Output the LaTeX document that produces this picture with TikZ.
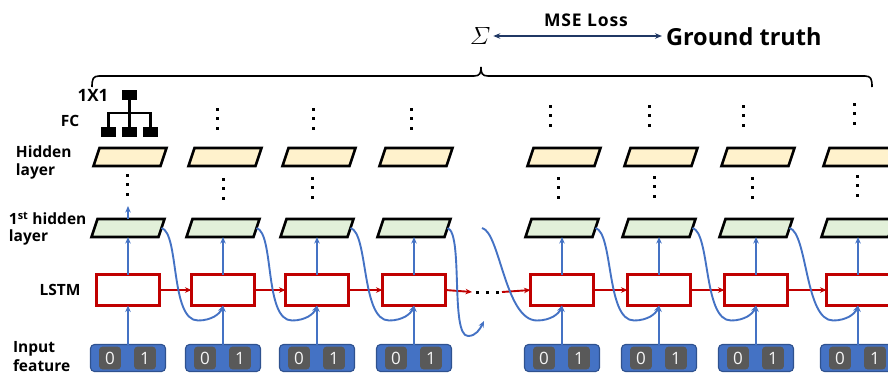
\documentclass[tikz,border=0pt]{standalone}
\usepackage{amsmath}
\usepackage{fontspec}
\setmainfont{Open Sans}
\usetikzlibrary{arrows.meta,calc}

\definecolor{lstmred}{HTML}{C00000}
\definecolor{flowblue}{HTML}{4472C4}
\definecolor{boxedge}{HTML}{2F528F}
\definecolor{keygrey}{HTML}{595959}
\definecolor{hidyellow}{HTML}{FFF2CC}
\definecolor{hidgreen}{HTML}{E2F0D9}
\definecolor{lossnavy}{HTML}{203864}

\begin{document}
\begin{tikzpicture}[x=1pt,y=-1pt,
  every node/.style={inner sep=0pt,outer sep=0pt},
  lstmcell/.style={rectangle,draw=lstmred,line width=2.8pt,fill=white,
    minimum width=63,minimum height=31},
  layerslot/.style={rectangle,minimum width=67,minimum height=18},
  layeredge/.style={draw=black,line width=2.6pt,line join=miter},
  inbox/.style={rectangle,draw=boxedge,line width=1.1pt,fill=flowblue,
    rounded corners=4pt,minimum width=75,minimum height=27},
  keybox/.style={rectangle,draw=black!65,line width=0.7pt,fill=keygrey,
    rounded corners=3pt,minimum width=21,minimum height=22,
    text=white!92!gray,font=\fontsize{17}{17}\selectfont},
  lblfont/.style={font=\bfseries\fontsize{15.5}{#1}\selectfont},
  lbl/.style={align=left,anchor=west,lblfont=#1},
  flow/.style={draw=flowblue,line width=1.9pt,-{Stealth[length=6.5pt,width=5.5pt]}},
  recur/.style={draw=lstmred,line width=1.9pt,-{Stealth[length=6.5pt,width=5.5pt]}},
  lossline/.style={draw=lossnavy,line width=1.5pt,
    {Stealth[length=7pt,width=5.5pt]}-{Stealth[length=7pt,width=5.5pt]}}
]
\useasboundingbox (0,0) rectangle (888,376);
\clip (0,0) rectangle (888,376);

% slanted layer box drawn on a named slot
\newcommand\slantbox[2]{%
  \draw[layeredge,fill=#2] ($(#1.south west)+(-3,0)$) -- ($(#1.south east)+(-3,0)$)
    -- ($(#1.north east)+(3,0)$) -- ($(#1.north west)+(3,0)$) -- cycle;}

% ---- unrolled time steps ----
\foreach \i/\cx in {1/128,2/223,3/317,4/414,5/562,6/659,7/756,8/858}{
  \node[inbox] (in\i) at (\cx,358) {};
  \node[keybox] (ka\i) at ($(in\i)+(-18,0)$) {0};
  \node[keybox] (kb\i) at ($(in\i)+(17,0)$) {1};
  \node[lstmcell] (L\i) at (\cx,290) {};
  \node[layerslot] (g\i) at (\cx,228) {};
  \slantbox{g\i}{hidgreen}
  \node[layerslot] (y\i) at (\cx+2,157) {};
  \slantbox{y\i}{hidyellow}
  \draw[flow] (in\i.north) -- (L\i.south);
  \draw[flow] (L\i.north) -- (g\i.south);
}
\draw[flow] (g1.north) -- ++(0,-13);

% ---- recurrent state passed along the sequence ----
\node[minimum width=30,minimum height=4] (hd) at (487,292) {};
\foreach \dx in {-10,0,10}
  \fill ($(hd)+(\dx-1.5,-1.5)$) rectangle +(3,3);
\foreach \a/\b in {1/2,2/3,3/4,5/6,6/7,7/8}
  \draw[recur] (L\a.east) -- (L\b.west);
\draw[recur] (L4.east) -- (hd.west);
\draw[recur] (hd.east) -- (L5.west);

% ---- first hidden layer feeding the next cell ----
\foreach \a/\b in {1/2,2/3,3/4,5/6,6/7,7/8}
  \draw[flow] (g\a.east) .. controls +(18,5) and +(-28,0) ..
    ($(L\b.south)+(-25,15)$) .. controls +(14,0) and +(-3,8) .. (L\b.south);
\coordinate (cutA) at (484,321);
\coordinate (cutB) at (482,228);
\draw[flow] (g4.east) .. controls +(16,5) and +(-18,0) .. (468,336)
  .. controls +(8,0) and +(-4,8) .. (cutA);
\draw[flow] (cutB) .. controls +(18,4) and +(-32,0) ..
  ($(L5.south)+(-25,15)$) .. controls +(14,0) and +(-3,8) .. (L5.south);

% ---- vertical ellipses ----
\foreach \x/\y in {127/175,223/179,312/178,558/178,654/177,752/178,857/176,
                   217/109,313/109,411/109,550/106,649/106,743/106,854/104}
  \foreach \k in {0,1,2}
    \fill ($(\x,\y)+(-1.5,9.5*\k-1.5)$) rectangle +(3,3);

% ---- fully connected output unit ----
\fill (122,90) rectangle (137,100);
\draw[line width=2.2pt] (129.5,100) -- (129.5,127);
\draw[line width=2.2pt] (108.5,127) -- (108.5,113) -- (150.5,113) -- (150.5,127);
\fill (101,127) rectangle (116,137);
\fill (122,127) rectangle (137,137);
\fill (143,127) rectangle (158,137);
\node[font=\bfseries\fontsize{17}{17}\selectfont] (unit) at (93,95) {1X1};
\node[lblfont=16] (fc) at (70,121) {FC};

% ---- row labels ----
\node[lbl=18] (hl) at (16,162) {Hidden\\layer};
\node[lbl=17] (fl) at (9,229) {1\textsuperscript{st} hidden\\layer};
\node[lblfont=16] (ls) at (60,290) {LSTM};
\node[lbl=19] (inf) at (13,357) {Input\\feature};

% ---- sum over time steps and the loss ----
\draw[line width=1.6pt] (92,87) .. controls (92,79) and (93,76) .. (99,76)
  -- (474,76) .. controls (480,76) and (481,73) .. (481,67)
  .. controls (481,73) and (482,76) .. (488,76)
  -- (865,76) .. controls (871,76) and (872,79) .. (872,87);
\node (sigma) at (480,36) {\fontsize{30}{30}\selectfont$\varSigma$};
\node[anchor=west,font=\fontsize{23.5}{23.5}\selectfont\bfseries] (gt) at (666,37) {Ground truth};
\draw[lossline,shorten <=3pt,shorten >=4pt] (sigma.east) -- (sigma.east -| gt.west);
\node[font=\bfseries\fontsize{17.5}{17.5}\selectfont\addfontfeatures{LetterSpace=5}] (mse) at (586,20) {MSE Loss};
\end{tikzpicture}
\end{document}
